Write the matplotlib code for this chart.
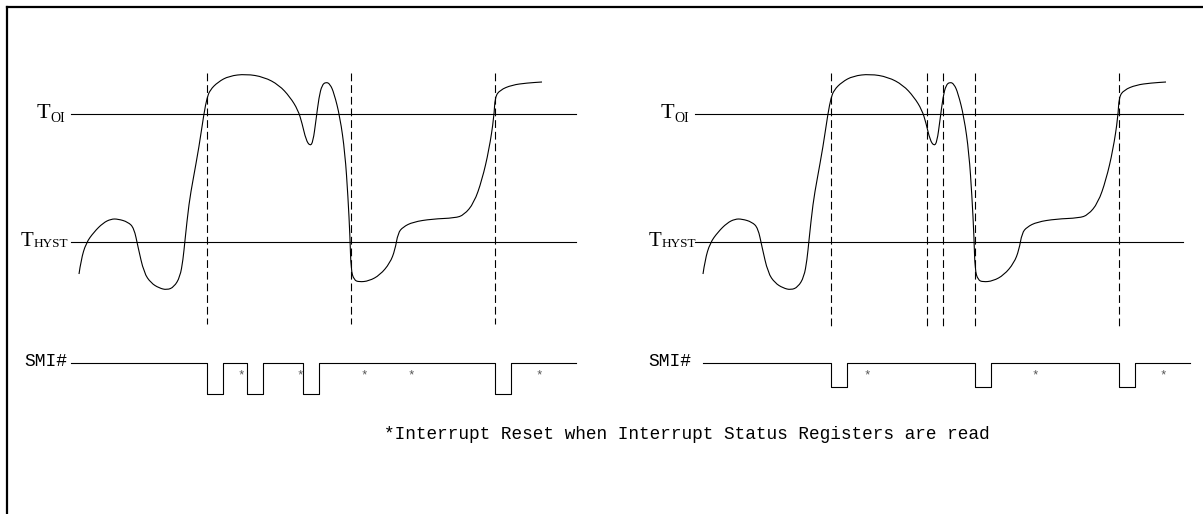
import matplotlib.pyplot as plt
from matplotlib.path import Path
from matplotlib.patches import PathPatch

# temperature trace (x right, y down, in picture units)
temp_x = [79, 81, 86, 94, 103, 111, 118, 128, 134, 138, 144, 151, 159, 167, 174, 180,
          183, 185, 189, 193, 199, 204, 207, 210, 218, 229, 246, 264, 279, 290, 298,
          302, 306, 310, 313, 316, 319, 322, 326, 330, 334, 340, 345, 348, 350, 351,
          354, 359, 369, 380, 390, 395, 398, 403, 413, 432, 455, 464, 474, 482, 489,
          494, 495, 500, 512, 527, 542]
temp_y = [274, 260, 243, 232, 223, 219, 219, 222, 228, 247, 273, 283, 288, 290, 287, 277,
          260, 240, 203, 180, 147, 113, 98, 90, 82, 76, 74, 77, 85, 97, 110,
          123, 140, 146, 142, 120, 97, 85, 82, 84, 93, 117, 153, 197, 237, 270,
          280, 282, 281, 275, 263, 250, 233, 227, 222, 219, 218, 215, 203, 180, 150,
          117, 97, 90, 85, 83, 82]

panel_shift = [0, 624]          # the right panel repeats the same trace
t_oi_level = 114
t_hyst_level = 242

# SMI# signal
smi_high = 363
smi_low = [394, 387]
pulse_width = 16
pulse_starts = [[207, 247, 303, 495], [831, 975, 1119]]
star_x = [[241, 300, 364, 411, 539], [867, 1035, 1163]]

# dashed event markers
dashed_x = [[207, 351, 495], [831, 927, 943, 975, 1119]]
dashed_bottom = [324, 328]

# horizontal extents / label positions per panel
line_start = [71, 695]
line_end = [576, 1183]
smi_start = [71, 703]
smi_end = [576, 1190]
toi_label_x = [37, 661]
thyst_label_x = [21, 649]
smi_label_x = [24, 648]

note = "*Interrupt Reset when Interrupt Status Registers are read"

fig = plt.figure(figsize=(12.03, 5.14), dpi=100)
ax = fig.add_axes([0, 0, 1, 1])
ax.set_xlim(0, 1203)
ax.set_ylim(514, 0)
ax.axis('off')

lw = 0.8
serif = 'Liberation Serif'
mono = 'Liberation Mono'


def smooth_path(xs, ys):
    # quadratic bezier through midpoints, points used as control points
    verts = [(xs[0], ys[0])]
    codes = [Path.MOVETO]
    for i in range(1, len(xs) - 1):
        mx, my = (xs[i] + xs[i + 1]) / 2, (ys[i] + ys[i + 1]) / 2
        verts += [(xs[i], ys[i]), (mx, my)]
        codes += [Path.CURVE3, Path.CURVE3]
    verts.append((xs[-1], ys[-1]))
    codes.append(Path.LINETO)
    return Path(verts, codes)


# frame (top and left only)
ax.plot([6.5, 1203], [6.5, 6.5], color='black', lw=1.6, solid_capstyle='projecting')
ax.plot([6.5, 6.5], [6.5, 514], color='black', lw=1.6, solid_capstyle='projecting')

for k in range(2):
    dx = panel_shift[k]

    # threshold lines
    ax.plot([line_start[k], line_end[k]], [t_oi_level, t_oi_level], color='black', lw=lw)
    ax.plot([line_start[k], line_end[k]], [t_hyst_level, t_hyst_level], color='black', lw=lw)

    # temperature curve
    curve = smooth_path([x + dx for x in temp_x], temp_y)
    ax.add_patch(PathPatch(curve, facecolor='none', edgecolor='black', lw=lw))

    # dashed verticals
    for x in dashed_x[k]:
        ax.plot([x, x], [73, dashed_bottom[k]], color='black', lw=lw, dashes=(7, 3.5))

    # SMI# waveform
    xs, ys = [smi_start[k]], [smi_high]
    for p in pulse_starts[k]:
        xs += [p, p, p + pulse_width, p + pulse_width]
        ys += [smi_high, smi_low[k], smi_low[k], smi_high]
    xs.append(smi_end[k])
    ys.append(smi_high)
    ax.plot(xs, ys, color='black', lw=lw)

    for x in star_x[k]:
        ax.text(x, 375, '*', fontsize=9, family=mono, color='#555555',
                ha='center', va='center')

    # labels
    ax.text(toi_label_x[k], 113, 'T', fontsize=16, family=serif, va='center', ha='left')
    ax.text(toi_label_x[k] + 13, 119, 'OI', fontsize=10, family=serif, va='center', ha='left')
    ax.text(thyst_label_x[k], 241, 'T', fontsize=15, family=serif, va='center', ha='left')
    ax.text(thyst_label_x[k] + 13, 244, 'HYST', fontsize=9.5, family=serif, va='center', ha='left')
    ax.text(smi_label_x[k], 362, 'SMI#', fontsize=13, family=mono, va='center', ha='left')

ax.text(384, 439, note, fontsize=12.8, family=mono, va='baseline', ha='left')

fig.savefig('out.png', dpi=100)
